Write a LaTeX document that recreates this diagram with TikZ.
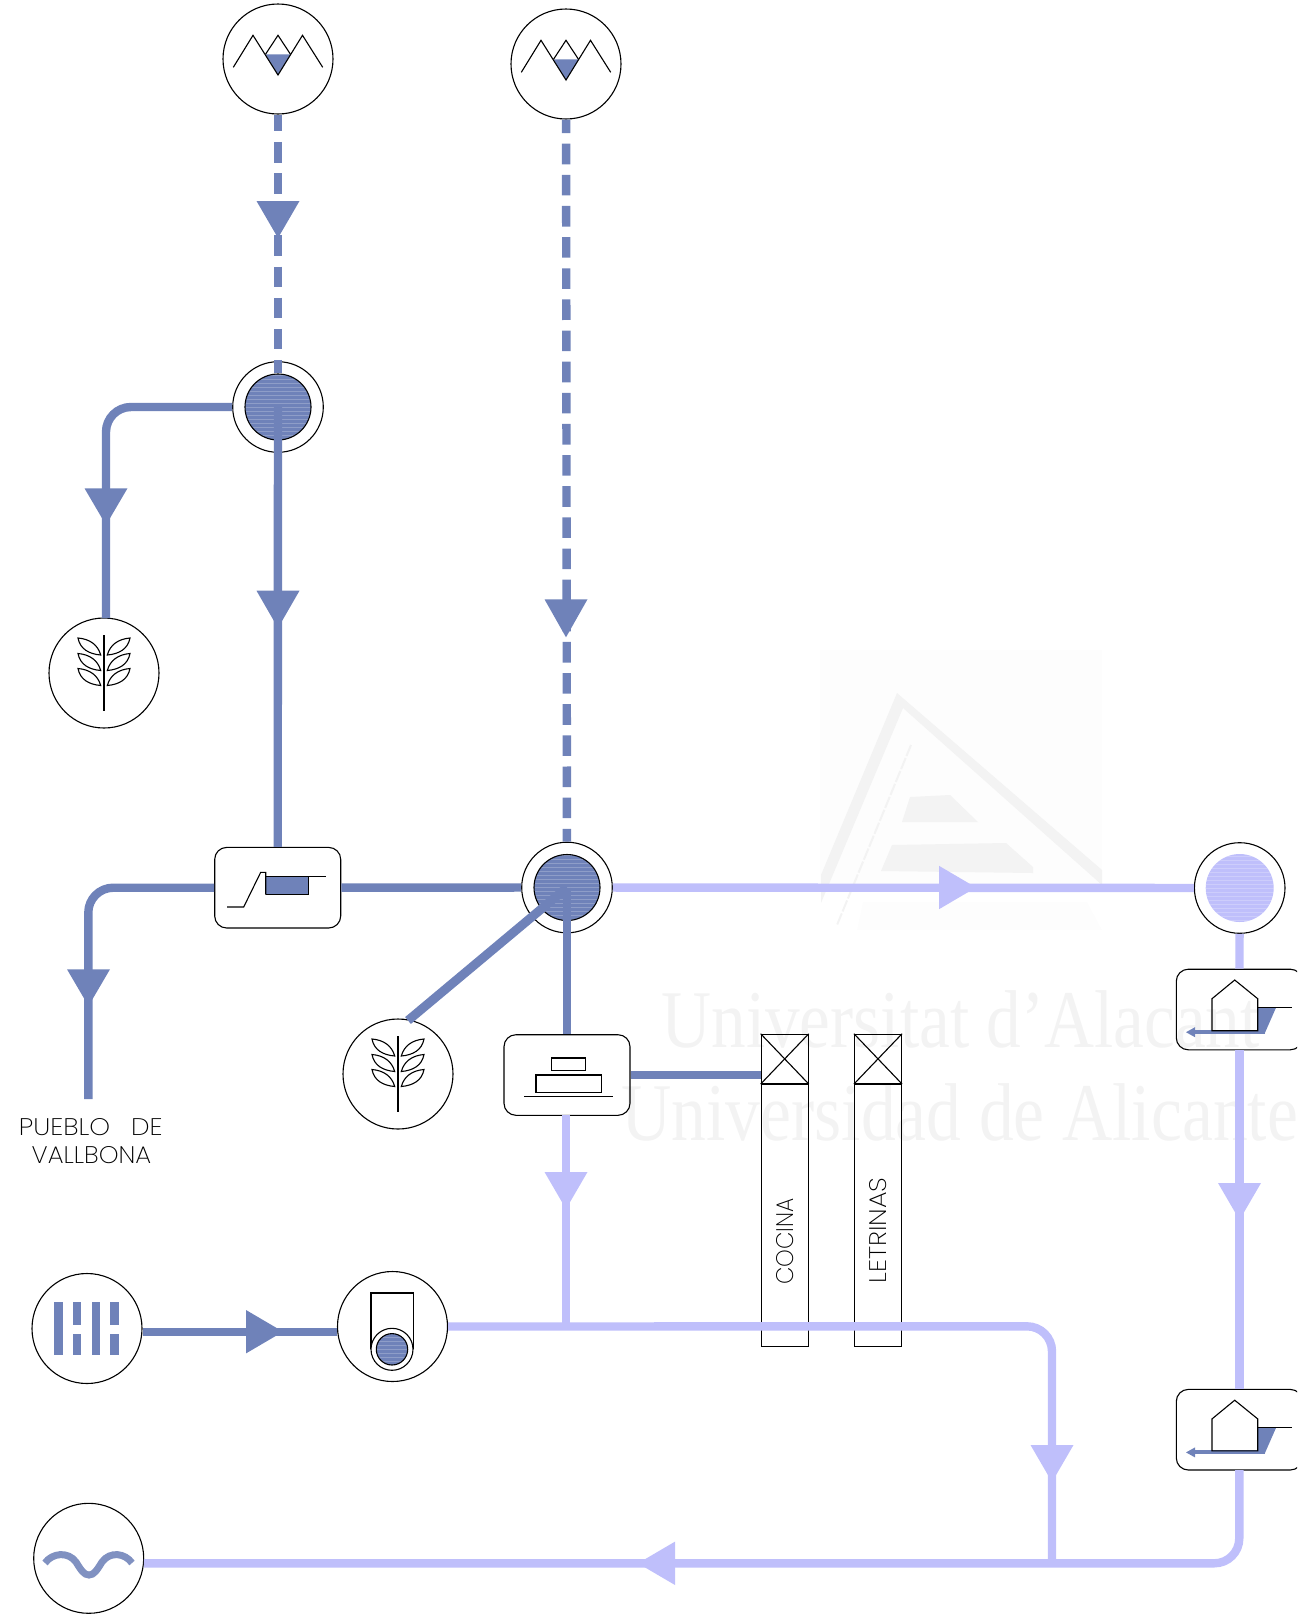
\documentclass[tikz,border=0pt]{standalone}
\usepackage{fontspec}
\usepackage{graphicx}
\newfontfamily\wmfont{Liberation Serif}[FakeStretch=0.845]
\newfontfamily\wmfontb{Liberation Serif}[FakeStretch=0.849]
\newfontfamily\labfont{Poppins}[UprightFont=* ExtraLight]
\definecolor{deep}{HTML}{6F82B9}
\definecolor{pale}{HTML}{BFBFFB}
\definecolor{wmgrey}{HTML}{F3F3F3}
\definecolor{wmfaint}{HTML}{FDFDFD}
\newcommand\arrowS[4]{\fill[#4] ({#1-21.5},#2) -- ({#1+21.5},#2) -- (#1,#3) -- cycle;}
\newcommand\arrowE[4]{\fill[#4] (#1,{#3-21.7}) -- (#1,{#3+21.7}) -- (#2,#3) -- cycle;}
\tikzset{
  thinline/.style={draw=black,line width=0.55pt},
  disc/.style={circle,thinline,minimum size=55pt,inner sep=0pt},
  ringnode/.style={circle,thinline,minimum size=45.3pt,inner sep=0pt},
  streaks/.style={path picture={\foreach \dy in {-32,-28,...,32}{\draw[white,opacity=.22,line width=.35pt] (-40,\dy) -- (40,\dy);}}},
  coredeep/.style={circle,thinline,fill=deep,minimum size=33pt,inner sep=0pt,streaks},
  corepale/.style={circle,fill=pale,minimum size=34pt,inner sep=0pt,streaks},
  boxnode/.style={rectangle,thinline,rounded corners=6pt,minimum width=63pt,minimum height=40.3pt,inner sep=0pt},
  latrine/.style={rectangle,thinline,minimum width=23.5pt,minimum height=155.9pt,inner sep=0pt},
  flowdeep/.style={draw=deep,line width=4.2pt},
  flowpale/.style={draw=pale,line width=4.2pt},
  flowdash/.style={draw=deep,line width=4.2pt,dash pattern=on 10.3pt off 5.27pt},
  bendy/.style={rounded corners=12.5pt},
  labeltext/.style={inner sep=0pt,font=\labfont\fontsize{12}{12}\selectfont},
  wmtext/.style={anchor=base west,inner sep=0pt,text=wmgrey},
  sprig/.pic={
    \draw[thinline] (0,-37.7) -- (0,37.7);
    \foreach \d in {0,15.5,30.5}{
      \draw[thinline] (-26,-35+\d) .. controls (-14,-34+\d) and (-6,-28+\d) .. (-3.3,-18+\d)
        .. controls (-15,-19+\d) and (-24,-24+\d) .. (-26,-35+\d) -- cycle;
      \draw[thinline] (26,-35+\d) .. controls (14,-34+\d) and (6,-28+\d) .. (3.3,-18+\d)
        .. controls (15,-19+\d) and (24,-24+\d) .. (26,-35+\d) -- cycle;
    }
  },
  peaks/.pic={
    \fill[deep] (-12.5,-4.7) -- (12.5,-4.7) -- (0,16) -- cycle;
    \draw[thinline,line join=miter] (-44.7,8.3) -- (-25,-23.7) -- (0,16) -- (24.5,-23.7) -- (44.7,8.3);
    \draw[thinline,line join=miter] (-12.5,-4.7) -- (0,-23.7) -- (12.5,-4.7);
  },
  dwelling/.pic={
    \fill[deep] (18.7,-2) -- (37,-2) -- (26,23) -- (18.7,23) -- cycle;
    \draw[deep,line width=2pt] (26,22.5) -- (-45,22.5);
    \fill[deep] (-53,22.5) -- (-44,17.5) -- (-44,27.5) -- cycle;
    \draw[thinline] (-27,21) -- (-27,-11) -- (-4.3,-29.7) -- (18.7,-11) -- (18.7,21) -- cycle;
    \draw[thinline] (18.7,-2) -- (53,-2);
  }
}
\begin{document}
\begin{tikzpicture}[x=0.5pt,y=-0.5pt]
\useasboundingbox (0,0) rectangle (1297,1623);
\clip (0,0) rectangle (1297,1623);

% faint watermark
\fill[wmfaint] (820,650) rectangle (1102,885);
\fill[wmfaint] (863,902) -- (1087,902) -- (1102,930) -- (857,930) -- cycle;
\fill[wmgrey] (897,693) -- (1102,870) -- (1102,885) -- (903,708) -- (821,903) -- (821,875) -- cycle;
\draw[wmgrey,line width=1pt,dash pattern=on 6pt off 1pt] (911,745) -- (837,925);
\fill[wmgrey] (910,797) -- (950,795) -- (978,822) -- (902,822) -- cycle;
\fill[wmgrey] (892,845) -- (1006,843) -- (1033,867) -- (1033,873) -- (881,871) -- cycle;
\node[wmtext,font=\wmfont\fontsize{41}{41}\selectfont] (wmA) at (661,1047) {Universitat d’Alacant};
\node[wmtext,font=\wmfontb\fontsize{41}{41}\selectfont] (wmB) at (621,1140) {Universidad de Alicante};

% nodes
\node[disc] (mtnA) at (278,59) {};
\node[disc] (mtnB) at (566,64) {};
\node[ringnode] (jointA) at (278,407) {};
\node[coredeep] (jointAin) at (278,407) {};
\node[disc] (treeA) at (104,673) {};
\node[boxnode] (boxA) at (277.7,887.7) {};
\node[ringnode] (jointB) at (567,887.5) {};
\node[coredeep] (jointBin) at (567,887.5) {};
\node[ringnode] (jointC) at (1239.7,888) {};
\node[corepale] (jointCin) at (1239.7,888) {};
\node[disc] (treeB) at (398,1074) {};
\node[boxnode] (boxB) at (567,1075) {};
\node[boxnode] (houseA) at (1239.3,1009.5) {};
\node[boxnode] (houseB) at (1239.3,1429.7) {};
\node[latrine] (wcA) at (784.7,1190.2) {};
\node[latrine] (wcB) at (878,1190.2) {};
\node[disc] (wells) at (87,1328.5) {};
\node[disc] (pump) at (392.5,1326.5) {};
\node[disc] (sea) at (88.7,1558.3) {};

% coordinates for free/bent connector ends
\coordinate (treeAup) at (106,618);
\coordinate (townEnd) at (88.3,1099);
\coordinate (wellOut) at (142.7,1331.7);
\coordinate (pumpIn) at (337,1331.7);
\coordinate (teeA) at (565.7,1326.3);
\coordinate (boxBout) at (565.7,1115);
\coordinate (pumpBend) at (1052,1326.3);
\coordinate (seaTee) at (1052,1563.3);
\coordinate (seaIn) at (143.8,1563.3);
\coordinate (houseOut) at (1239.3,1470);
\coordinate (seaBend) at (1239.3,1563.3);
\coordinate (treeBtop) at (408,1020.5);
\coordinate (wcAin) at (761,1075);

% connectors
\draw[flowdash,dash phase=1.85pt] (mtnA) -- (jointAin);
\draw[flowdash,dash phase=3.5pt] (mtnB) -- (jointB);
\draw[flowdeep,bendy] (jointA.west) -| (treeAup);
\draw[flowdeep] (jointAin.center) -- (boxA.north);
\draw[flowdeep,bendy] (boxA.west) -| (townEnd);
\draw[flowdeep] (boxA) -- (jointB);
\draw[flowdeep,line width=4.5pt] (jointBin.center) -- (treeBtop);
\draw[flowdeep] (jointBin.center) -- (boxB.north);
\draw[flowdeep] (boxB.east |- wcAin) -- (wcAin);
\draw[flowdeep] (wellOut) -- (pumpIn);
\draw[flowpale] (jointB) -- (jointC);
\draw[flowpale] (jointC) -- (houseA);
\draw[flowpale] (houseA) -- (houseB);
\draw[flowpale] (boxBout) -- (teeA);
\draw[flowpale,bendy] (pump.east) -- (pumpBend) -- (seaTee);
\draw[flowpale,bendy] (houseOut) -- (seaBend) -- (seaIn);

% arrowheads
\arrowS{278}{201}{238}{deep}
\arrowS{566}{599.3}{637.3}{deep}
\arrowS{106}{488.3}{525}{deep}
\arrowS{278}{590.7}{628}{deep}
\arrowS{88.5}{969.3}{1006}{deep}
\arrowS{566}{1172}{1209}{pale}
\arrowS{1239.5}{1183}{1220}{pale}
\arrowS{1052}{1445}{1482}{pale}
\arrowE{939}{976}{887.5}{pale}
\arrowE{246}{283}{1331.7}{deep}
\arrowE{675}{638}{1563.3}{pale}

% icons
\pic at (mtnA) {peaks};
\pic at (mtnB) {peaks};
\pic at (treeA) {sprig};
\pic at (treeB) {sprig};
\fill[deep] (265.7,876.7) rectangle (308.7,894.7);
\draw[thinline] (308.7,876.7) -- (308.7,894.7) -- (265.7,894.7);
\draw[thinline] (227,907) -- (243.7,907) -- (260.7,872.3) -- (265.7,872.3) -- (265.7,894.7);
\draw[thinline] (265.7,876.7) -- (326,876.7);
\draw[thinline] (551.3,1058) rectangle (585.7,1070.7);
\draw[thinline] (536,1075) rectangle (601.3,1092.3);
\draw[thinline] (524,1096.7) -- (613.3,1096.7);
\pic at (1239,1009.7) {dwelling};
\pic at (1239,1429.9) {dwelling};
\draw[thinline] (wcA.north west) -- (wcA.north east |- 0,1084);
\draw[thinline] (wcA.north east) -- (wcA.north west |- 0,1084);
\draw[thinline] (wcA.north west |- 0,1084) -- (wcA.north east |- 0,1084);
\draw[thinline] (wcB.north west) -- (wcB.north east |- 0,1084);
\draw[thinline] (wcB.north east) -- (wcB.north west |- 0,1084);
\draw[thinline] (wcB.north west |- 0,1084) -- (wcB.north east |- 0,1084);
\foreach \bx in {54.3,91.7}{\fill[deep] (\bx,1302.3) rectangle ({\bx+8.4},1355.3);}
\foreach \bx in {73,110.3}{
  \fill[deep] (\bx,1302.3) rectangle ({\bx+8.4},1324.7);
  \fill[deep] (\bx,1334) rectangle ({\bx+8.4},1355.3);
}
\draw[thinline] (371,1349.3) -- (371,1293) -- (413.3,1293) -- (413.3,1349.3);
\node[circle,thinline,fill=white,minimum size=21pt,inner sep=0pt] (pumpRing) at (392,1349.3) {};
\node[circle,thinline,fill=deep,minimum size=15.7pt,inner sep=0pt,streaks] (pumpCore) at (392,1349.3) {};
\draw[deep!88,line width=3.5pt] (45,1563) .. controls (52,1553) and (68,1551) .. (76,1562)
  .. controls (81,1570) and (84,1575) .. (89,1575) .. controls (94,1575) and (97,1570) .. (102,1562)
  .. controls (110,1551) and (125,1553) .. (132,1563);

% labels
\node[anchor=base,labeltext] (townA) at (90.8,1135.7) {\scalebox{1.1}[1]{PUEBLO\hspace{9.5pt}DE}};
\node[anchor=base,labeltext] (townB) at (91.5,1163.3) {\scalebox{1.05}[1]{VALLBONA}};
\node[rotate=90,labeltext] (wcAlab) at (785,1241.5) {\scalebox{0.94}[1]{COCINA}};
\node[rotate=90,labeltext] (wcBlab) at (878,1230.6) {\scalebox{1.1}[1]{LETRINAS}};
\end{tikzpicture}
\end{document}
